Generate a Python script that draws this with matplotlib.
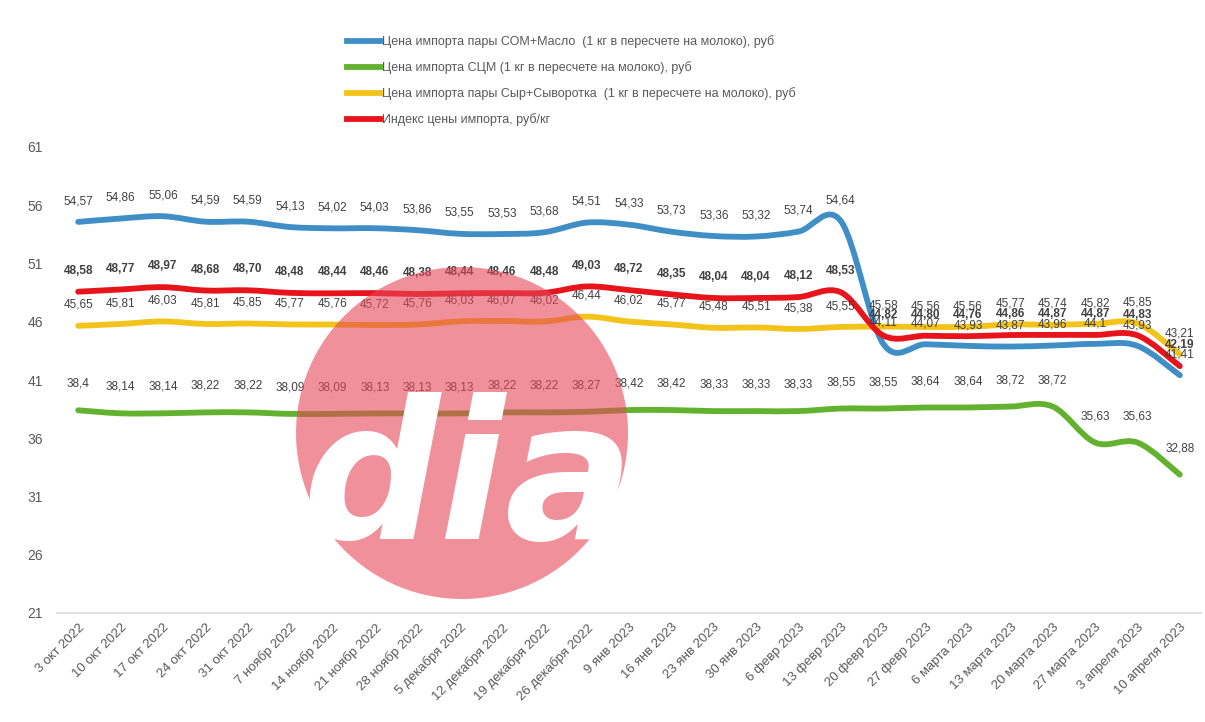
import matplotlib
matplotlib.use("Agg")
import matplotlib.pyplot as plt
from matplotlib.path import Path
from matplotlib.patches import PathPatch, Circle
from matplotlib.lines import Line2D

categories = ["3 окт 2022", "10 окт 2022", "17 окт 2022", "24 окт 2022", "31 окт 2022",
              "7 ноябр 2022", "14 ноябр 2022", "21 ноябр 2022", "28 ноябр 2022",
              "5 декабря 2022", "12 декабря 2022", "19 декабря 2022", "26 декабря 2022",
              "9 янв 2023", "16 янв 2023", "23 янв 2023", "30 янв 2023",
              "6 февр 2023", "13 февр 2023", "20 февр 2023", "27 февр 2023",
              "6 марта 2023", "13 марта 2023", "20 марта 2023", "27 марта 2023",
              "3 апреля 2023", "10 апреля 2023"]

som_butter = [54.57, 54.86, 55.06, 54.59, 54.59, 54.13, 54.02, 54.03, 53.86, 53.55, 53.53,
              53.68, 54.51, 54.33, 53.73, 53.36, 53.32, 53.74, 54.64,
              44.11, 44.07, 43.93, 43.87, 43.96, 44.1, 43.93, 41.41]
scm = [38.4, 38.14, 38.14, 38.22, 38.22, 38.09, 38.09, 38.13, 38.13, 38.13, 38.22,
       38.22, 38.27, 38.42, 38.42, 38.33, 38.33, 38.33, 38.55, 38.55, 38.64, 38.64,
       38.72, 38.72, 35.63, 35.63, 32.88]
cheese_whey = [45.65, 45.81, 46.03, 45.81, 45.85, 45.77, 45.76, 45.72, 45.76, 46.03, 46.07,
               46.02, 46.44, 46.02, 45.77, 45.48, 45.51, 45.38, 45.55,
               45.58, 45.56, 45.56, 45.77, 45.74, 45.82, 45.85, 43.21]
index_price = [48.58, 48.77, 48.97, 48.68, 48.70, 48.48, 48.44, 48.46, 48.38, 48.44, 48.46,
               48.48, 49.03, 48.72, 48.35, 48.04, 48.04, 48.12, 48.53,
               44.82, 44.80, 44.76, 44.86, 44.87, 44.87, 44.83, 42.19]

series_names = ["Цена импорта пары СОМ+Масло  (1 кг в пересчете на молоко), руб",
                "Цена импорта СЦМ (1 кг в пересчете на молоко), руб",
                "Цена импорта пары Сыр+Сыворотка  (1 кг в пересчете на молоко), руб",
                "Индекс цены импорта, руб/кг"]
y_ticks = [21, 26, 31, 36, 41, 46, 51, 56, 61]

colors = ["#3f8fc6", "#62b22f", "#f2c41b", "#e8141c"]
label_offsets = [15, 19, 15, 15]

plt.rcParams['font.family'] = ['Liberation Sans', 'DejaVu Sans']

fig = plt.figure(figsize=(12.05, 7.22), dpi=100)
ax = fig.add_axes([57/1205, 1-613/722, (1201-57)/1205, (613-147)/722])
ax.set_xlim(-0.5, len(categories)-0.5)
ax.set_ylim(21, 61)


def smooth_path(xs, ys):
    pts = list(zip(xs, ys))
    verts = [pts[0]]
    codes = [Path.MOVETO]
    n = len(pts)
    for i in range(n-1):
        p0 = pts[i-1] if i > 0 else pts[i]
        p1 = pts[i]
        p2 = pts[i+1]
        p3 = pts[i+2] if i+2 < n else pts[i+1]
        c1 = (p1[0] + (p2[0]-p0[0])/6, p1[1] + (p2[1]-p0[1])/6)
        c2 = (p2[0] - (p3[0]-p1[0])/6, p2[1] - (p3[1]-p1[1])/6)
        verts += [c1, c2, p2]
        codes += [Path.CURVE4]*3
    return Path(verts, codes)


def fmt(v, k, x):
    if k == 1:
        t = f"{v:.2f}".rstrip('0').rstrip('.')
    else:
        t = f"{v:.2f}"
        if k in (0, 2) and x >= 19 and t.endswith('0'):
            t = t.rstrip('0')
    return t.replace('.', ',')


xs = list(range(len(categories)))
all_series = [som_butter, scm, cheese_whey, index_price]
handles = []
for k, (vals, col, name) in enumerate(zip(all_series, colors, series_names)):
    patch = PathPatch(smooth_path(xs, vals), facecolor='none', edgecolor=col,
                      lw=4.2, capstyle='round', joinstyle='round', zorder=3)
    ax.add_patch(patch)
    handles.append(Line2D([0], [0], color=col, lw=4.2))
    for x, v in zip(xs, vals):
        ax.annotate(fmt(v, k, x), (x, v), xytext=(0, label_offsets[k]),
                    textcoords='offset points', ha='center', va='center',
                    fontsize=8.5, color='#404040',
                    fontweight='bold' if k == 3 else 'normal', zorder=4)

# watermark logo
circ = Circle((462, 722-433), 166, transform=None, facecolor='#e64657',
              alpha=0.6, edgecolor='none', zorder=5)
fig.patches.append(circ)
fig.text(468/1205, 1-485/722, "dia", fontsize=138, fontweight='bold', style='italic',
         color='white', ha='center', va='center', family='DejaVu Sans', zorder=6)

ax.set_yticks(y_ticks)
ax.set_xticks(xs)
ax.set_xticklabels(categories, rotation=45, ha='right', rotation_mode='anchor',
                   fontsize=9.5, color='#595959')
ax.tick_params(axis='both', length=0)
ax.tick_params(axis='y', labelsize=10, labelcolor='#595959', pad=10)
ax.tick_params(axis='x', pad=6)
for s in ['top', 'right', 'left']:
    ax.spines[s].set_visible(False)
ax.spines['bottom'].set_color('#d9d9d9')
ax.spines['bottom'].set_linewidth(1.2)

fig.legend(handles, series_names, loc='upper left', bbox_to_anchor=(336/1205, 1-24/722),
           frameon=False, fontsize=9, handlelength=2.6, handletextpad=0.15,
           labelspacing=1.05, labelcolor='#595959')

fig.savefig("out.png", dpi=100)
